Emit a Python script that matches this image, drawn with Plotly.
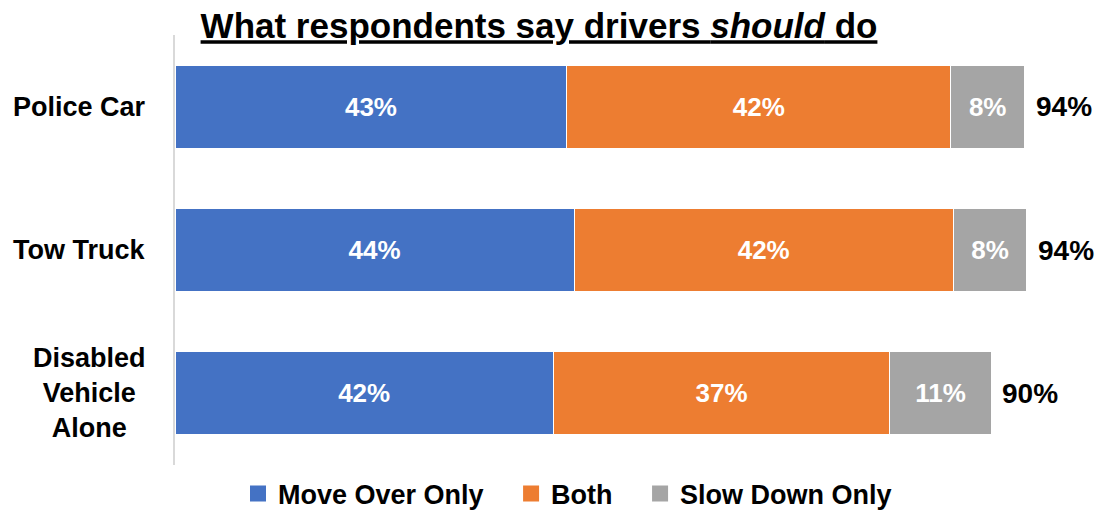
import plotly.graph_objects as go

# Survey categories (top to bottom) and shares per response, in percent
categories = ["Police Car", "Tow Truck", "Disabled<br>Vehicle<br>Alone"]
move_over_only = [43.3, 44.1, 41.8]
both = [42.4, 41.9, 37.2]
slow_down_only = [8.2, 8.1, 11.2]
totals = [94, 94, 90]

series_names = ["Move Over Only", "Both", "Slow Down Only"]
series_values = [move_over_only, both, slow_down_only]
series_colors = ["#4472C4", "#ED7D31", "#A5A5A5"]

FONT = "Liberation Sans"
PAD = "&nbsp;" * 3  # extra room after the first legend entries

fig = go.Figure()
for i, (name, vals, color) in enumerate(zip(series_names, series_values, series_colors)):
    fig.add_trace(go.Bar(
        name=name,
        y=categories,
        x=vals,
        orientation="h",
        marker=dict(color=color, line=dict(color="white", width=1)),
        texttemplate="%{x:.0f}%",
        textposition="inside",
        insidetextanchor="middle",
        textangle=0,
        textfont=dict(family=FONT, size=26, color="white", weight="bold"),
        hoverinfo="skip",
        showlegend=False,
    ))
    # Square legend swatch for the series
    fig.add_trace(go.Scatter(
        name=name + (PAD if i < len(series_names) - 1 else ""),
        x=[None], y=[None], mode="markers",
        marker=dict(symbol="square", size=18, color=color),
        hoverinfo="skip", showlegend=True,
    ))

# Category labels to the left of the bars
for cat in categories:
    fig.add_annotation(
        x=0, y=cat, xref="paper", yref="y",
        text=f"<b>{cat}</b>", showarrow=False,
        xanchor="right", yanchor="middle", align="center", xshift=-27,
        font=dict(family=FONT, size=27, color="black"),
    )

# Totals at the end of each bar
for cat, a, b, c, t in zip(categories, move_over_only, both, slow_down_only, totals):
    fig.add_annotation(
        x=a + b + c, y=cat, xref="x", yref="y",
        text=f"<b>{t}%</b>", showarrow=False,
        xanchor="left", yanchor="middle", xshift=9,
        font=dict(family=FONT, size=28, color="black"),
    )

fig.update_layout(
    width=1102, height=510,
    margin=dict(l=175, r=22, t=35, b=45, autoexpand=False),
    barmode="stack",
    bargap=0.42,
    plot_bgcolor="white",
    paper_bgcolor="white",
    title=dict(
        text="<b><u>What respondents say drivers <i>should</i> do</u></b>",
        x=539 / 1102, xanchor="center", xref="container",
        y=1 - 26 / 510, yanchor="middle", yref="container",
        font=dict(family=FONT, size=35, color="black"),
    ),
    xaxis=dict(range=[0, 100], visible=False, fixedrange=True),
    yaxis=dict(
        categoryorder="array", categoryarray=categories, autorange="reversed",
        showticklabels=False, showgrid=False, zeroline=False,
        showline=True, linecolor="#D9D9D9", linewidth=2, ticks="",
    ),
    legend=dict(
        orientation="h", x=238 / 1102, xanchor="left", xref="container",
        y=1 - 494 / 510, yanchor="middle", yref="container",
        font=dict(family=FONT, size=27, color="black", weight="bold"),
        traceorder="normal",
    ),
    showlegend=True,
)

fig.write_html("out.html")
